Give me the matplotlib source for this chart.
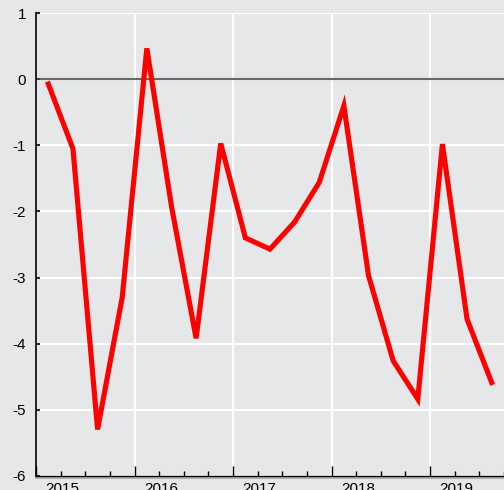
import matplotlib
matplotlib.use("Agg")
import matplotlib.pyplot as plt
import matplotlib.transforms as mtransforms
import numpy as np

# Data: quarterly values 2015Q1 .. 2019Q3
quarters = ["2015Q1", "2015Q2", "2015Q3", "2015Q4",
            "2016Q1", "2016Q2", "2016Q3", "2016Q4",
            "2017Q1", "2017Q2", "2017Q3", "2017Q4",
            "2018Q1", "2018Q2", "2018Q3", "2018Q4",
            "2019Q1", "2019Q2", "2019Q3"]
values = [-0.07, -1.05, -5.30, -3.30,
          0.47, -1.92, -3.92, -0.97,
          -2.40, -2.57, -2.16, -1.56,
          -0.40, -2.97, -4.26, -4.84,
          -0.98, -3.63, -4.59]
year_labels = ["2015", "2016", "2017", "2018", "2019"]
y_ticks = [1, 0, -1, -2, -3, -4, -5, -6]

# positions: midpoints of quarters
xpos = [int(q[:4]) + (int(q[-1]) - 1) * 0.25 + 0.125 for q in quarters]

bg = "#e6e7e8"
plt.rcParams['font.family'] = ['Liberation Sans', 'DejaVu Sans']

fig = plt.figure(figsize=(5.04, 4.90), dpi=100, facecolor=bg)
ax = fig.add_axes([36/504, (490-475.7)/490, 1 - 36/504, (475.7-13.3)/490])
ax.set_facecolor(bg)

ax.set_xlim(2015, 2015 + (504 - 36) / 99.3)
ax.set_ylim(-6, 1)

# grid
for y in y_ticks:
    ax.axhline(y, color="white", lw=1.5, zorder=1)
for yr in range(2016, 2020):
    ax.axvline(yr, color="white", lw=1.5, zorder=1)
ax.axhline(0, color="#4d4d4d", lw=1.5, alpha=0.85, zorder=2)

ax.plot(xpos, values, color="#ff0000", lw=3.7, solid_joinstyle="miter", zorder=3)

# spines
for s in ["top", "right"]:
    ax.spines[s].set_visible(False)
ax.spines["left"].set_color("black")
ax.spines["left"].set_linewidth(1.2)
ax.spines["bottom"].set_color("black")
ax.spines["bottom"].set_linewidth(1.0)
ax.plot([0, 1], [-0.004, -0.004], transform=ax.transAxes, color="#b4b4b4",
        lw=1.5, clip_on=False, zorder=0)

ax.set_yticks(y_ticks)
ax.set_yticklabels([str(v) for v in y_ticks])
ax.tick_params(axis="y", direction="in", length=3, width=1.2, pad=7,
               labelsize=11, colors="black")

ax.set_xticks(list(range(2015, 2020)))
ax.set_xticklabels([])
ax.set_xticks(np.arange(2015, 2019.76, 0.25), minor=True)
ax.tick_params(axis="x", which="major", direction="in", length=7, width=1.0)
ax.tick_params(axis="x", which="minor", direction="in", length=3.5, width=1.0)

trans = mtransforms.blended_transform_factory(ax.transData, ax.transAxes)
for lab in year_labels:
    ax.text(int(lab) + 0.267, -0.013, lab, transform=trans, ha="center",
            va="top", fontsize=11, color="black", clip_on=False)

fig.savefig("out.png", dpi=100, facecolor=bg)
